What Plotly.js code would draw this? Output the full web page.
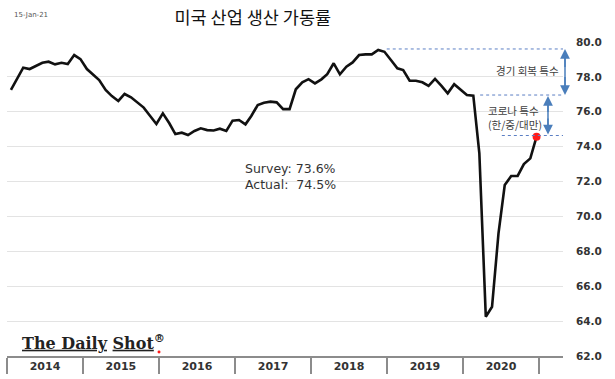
<!DOCTYPE html>
<html>
<head>
<meta charset="utf-8">
<script src="https://cdn.plot.ly/plotly-3.0.1.min.js"></script>
<style>
html, body { margin: 0; padding: 0; background: #ffffff; }
#chart { width: 615px; height: 379px; }
</style>
</head>
<body>
<div id="chart"></div>
<script>
// ---- data (monthly capacity utilization, %) ----
const years = [2014, 2015, 2016, 2017, 2018, 2019, 2020];
const util2014 = [77.25, 77.9, 78.53, 78.45, 78.62, 78.81, 78.87, 78.72, 78.81, 78.74, 79.25, 79.02];
const util2015 = [78.45, 78.1, 77.82, 77.25, 76.9, 76.62, 77.02, 76.83, 76.54, 76.24, 75.76, 75.3];
const util2016 = [75.91, 75.34, 74.72, 74.8, 74.67, 74.9, 75.05, 74.95, 74.93, 75.03, 74.9, 75.49];
const util2017 = [75.53, 75.28, 75.76, 76.39, 76.52, 76.58, 76.54, 76.15, 76.15, 77.29, 77.69, 77.87];
const util2018 = [77.63, 77.86, 78.15, 78.78, 78.15, 78.58, 78.83, 79.25, 79.29, 79.29, 79.54, 79.44];
const util2019 = [78.97, 78.49, 78.39, 77.78, 77.78, 77.69, 77.48, 77.88, 77.48, 77.06, 77.58, 77.29];
const util2020 = [76.96, 76.92, 73.62, 64.25, 64.82, 69.03, 71.8, 72.32, 72.32, 73.0, 73.33, 74.57];
const yTicks = [62, 64, 66, 68, 70, 72, 74, 76, 78, 80];

const titleText = '미국 산업 생산 가동률';
const dateStamp = '15-Jan-21';
const surveyText = 'Survey: 73.6%';
const actualText = 'Actual:\u00a0\u00a074.5%';
const label1 = '경기 회복 특수';
const label2 = '코로나 특수<br>(한/중/대만)';

// ---- build series ----
const allVals = [].concat(util2014, util2015, util2016, util2017, util2018, util2019, util2020);
const dates = [];
years.forEach(function (y) {
  for (let m = 1; m <= 12; m++) {
    dates.push(y + '-' + (m < 10 ? '0' + m : m) + '-20');
  }
});
const lastDate = dates[dates.length - 1];
const lastVal = allVals[allVals.length - 1];

const traces = [
  {
    type: 'scatter', mode: 'lines', x: dates, y: allVals,
    line: { color: '#111111', width: 2.6 },
    hoverinfo: 'skip', showlegend: false
  },
  {
    type: 'scatter', mode: 'markers', x: [lastDate], y: [lastVal],
    marker: { color: '#ff1a1a', size: 8 },
    hoverinfo: 'skip', showlegend: false
  }
];

const blue = '#4a7ebb';
const dotBlue = '#5b7fc4';

const layout = {
  width: 615, height: 379,
  margin: { l: 7, r: 52, t: 42, b: 23, pad: 0 },
  paper_bgcolor: '#ffffff', plot_bgcolor: '#ffffff',
  showlegend: false,
  title: {
    text: titleText,
    font: { family: 'Noto Sans CJK KR', size: 17.5, color: '#111111' },
    x: 0.411, xref: 'container', xanchor: 'center',
    y: 0.952, yref: 'container', yanchor: 'middle'
  },
  xaxis: {
    type: 'date',
    range: ['2014-01-01', '2021-04-26'],
    showgrid: false, zeroline: false,
    showline: true, linecolor: '#8c8c8c', linewidth: 1.5,
    ticks: 'outside', ticklen: 16, tickwidth: 1.5, tickcolor: '#8c8c8c',
    tick0: '2014-01-01', dtick: 'M12', tickformat: '%Y',
    ticklabelmode: 'period', ticklabelstandoff: -17,
    tickfont: { family: 'DejaVu Sans', size: 11, color: '#333333', weight: 'bold' },
    fixedrange: true
  },
  yaxis: {
    side: 'right',
    range: [62, 80],
    tickvals: yTicks, tickformat: '.1f',
    showgrid: true, gridcolor: '#e3e3e3', gridwidth: 1,
    zeroline: false, showline: false, ticks: '',
    ticklabelstandoff: 12,
    tickfont: { family: 'DejaVu Sans', size: 10.5, color: '#333333', weight: 'bold' },
    fixedrange: true
  },
  shapes: [
    // white box behind survey text
    { type: 'rect', xref: 'paper', yref: 'paper', x0: 0.338, x1: 0.6924, y0: 0.4968, y1: 0.6497,
      fillcolor: '#ffffff', line: { width: 0 }, layer: 'between' },
    // dotted guide lines
    { type: 'line', xref: 'paper', yref: 'y', x0: 0.683, x1: 1.0, y0: 79.6, y1: 79.6,
      line: { color: dotBlue, width: 1, dash: 'dot' } },
    { type: 'line', xref: 'paper', yref: 'y', x0: 0.851, x1: 1.0, y0: 76.96, y1: 76.96,
      line: { color: dotBlue, width: 1, dash: 'dot' } },
    { type: 'line', xref: 'paper', yref: 'y', x0: 0.89, x1: 1.0, y0: 74.64, y1: 74.64,
      line: { color: dotBlue, width: 1, dash: 'dot' } },
    // double-headed arrow shafts
    { type: 'line', xref: 'paper', yref: 'y', x0: 1.0036, x1: 1.0036, y0: 79.35, y1: 77.2,
      line: { color: blue, width: 1.5 } },
    { type: 'line', xref: 'paper', yref: 'y', x0: 0.973, x1: 0.973, y0: 76.65, y1: 74.95,
      line: { color: blue, width: 1.5 } },
    // small red dot of the logo
    { type: 'circle', xref: 'paper', yref: 'paper', x0: 0.2707, x1: 0.2761, y0: 0.008, y1: 0.0175,
      fillcolor: '#ff1a1a', line: { width: 0 } }
  ],
  annotations: [
    { text: dateStamp, xref: 'paper', yref: 'paper', x: 0.009, y: 1.086,
      xanchor: 'left', yanchor: 'middle', showarrow: false,
      font: { family: 'DejaVu Sans', size: 7, color: '#555555' } },
    { text: surveyText + '<br>' + actualText, xref: 'paper', yref: 'paper',
      x: 0.4245, y: 0.573, xanchor: 'left', yanchor: 'middle', align: 'left', showarrow: false,
      font: { family: 'DejaVu Sans', size: 12.5, color: '#333333' } },
    { text: label1, xref: 'paper', yref: 'y', x: 0.937, y: 78.39,
      xanchor: 'center', yanchor: 'middle', showarrow: false,
      font: { family: 'Noto Sans CJK KR', size: 10.5, color: '#404040' } },
    { text: label2, xref: 'paper', yref: 'y', x: 0.8615, y: 75.7,
      xanchor: 'left', yanchor: 'middle', align: 'left', showarrow: false,
      font: { family: 'Noto Sans CJK KR', size: 10.5, color: '#404040' } },
    // arrow heads (up and down) for the two double-headed arrows
    { text: '\u00a0', xref: 'paper', yref: 'y', x: 1.0036, y: 79.6, ax: 0, ay: 20, standoff: 0,
      showarrow: true, arrowhead: 2, arrowsize: 1.3, arrowwidth: 1.5, arrowcolor: blue,
      font: { size: 1 } },
    { text: '\u00a0', xref: 'paper', yref: 'y', x: 1.0036, y: 76.96, ax: 0, ay: -20, standoff: 0,
      showarrow: true, arrowhead: 2, arrowsize: 1.3, arrowwidth: 1.5, arrowcolor: blue,
      font: { size: 1 } },
    { text: '\u00a0', xref: 'paper', yref: 'y', x: 0.973, y: 76.9, ax: 0, ay: 18, standoff: 0,
      showarrow: true, arrowhead: 2, arrowsize: 1.3, arrowwidth: 1.5, arrowcolor: blue,
      font: { size: 1 } },
    { text: '\u00a0', xref: 'paper', yref: 'y', x: 0.973, y: 74.7, ax: 0, ay: -18, standoff: 0,
      showarrow: true, arrowhead: 2, arrowsize: 1.3, arrowwidth: 1.5, arrowcolor: blue,
      font: { size: 1 } },
    // logo
    { text: '<u>The Daily</u> <u>Shot</u><sup>®</sup>', xref: 'paper', yref: 'paper',
      x: 0.0234, y: 0.046, xanchor: 'left', yanchor: 'middle', showarrow: false,
      font: { family: 'DejaVu Serif', size: 16, color: '#222222', weight: 'bold' } }
  ]
};

Plotly.newPlot('chart', traces, layout, { staticPlot: true, displayModeBar: false });
</script>
</body>
</html>
